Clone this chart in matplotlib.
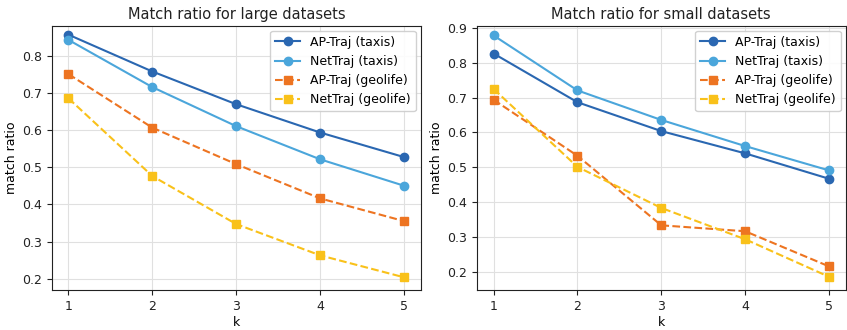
import matplotlib
matplotlib.use("Agg")
import matplotlib.pyplot as plt

k = [1, 2, 3, 4, 5]

# Large datasets
large_ap_taxis = [0.856, 0.757, 0.669, 0.593, 0.527]
large_net_taxis = [0.842, 0.715, 0.610, 0.521, 0.450]
large_ap_geolife = [0.750, 0.606, 0.508, 0.416, 0.355]
large_net_geolife = [0.685, 0.476, 0.347, 0.263, 0.204]

# Small datasets
small_ap_taxis = [0.827, 0.687, 0.604, 0.540, 0.467]
small_net_taxis = [0.879, 0.721, 0.636, 0.561, 0.491]
small_ap_geolife = [0.694, 0.533, 0.333, 0.316, 0.215]
small_net_geolife = [0.725, 0.501, 0.383, 0.293, 0.185]

labels = ["AP-Traj (taxis)", "NetTraj (taxis)", "AP-Traj (geolife)", "NetTraj (geolife)"]
titles = ["Match ratio for large datasets", "Match ratio for small datasets"]

colors = ["#2a67b1", "#4ba6db", "#ed7421", "#f9c11a"]
styles = [("-", "o"), ("-", "o"), ("--", "s"), ("--", "s")]

plt.rcParams["font.family"] = ["DejaVu Sans"]
plt.rcParams["font.size"] = 9

fig = plt.figure(figsize=(8.47, 3.3), dpi=100)
ax1 = fig.add_axes([0.061, 0.1212, 0.436, 0.8008])
ax2 = fig.add_axes([0.563, 0.1212, 0.4355, 0.8008])

datasets = [
    [large_ap_taxis, large_net_taxis, large_ap_geolife, large_net_geolife],
    [small_ap_taxis, small_net_taxis, small_ap_geolife, small_net_geolife],
]

for ax, series, title in zip([ax1, ax2], datasets, titles):
    for vals, lab, c, (ls, m) in zip(series, labels, colors, styles):
        ax.plot(k, vals, linestyle=ls, marker=m, color=c, label=lab,
                linewidth=1.5, markersize=6)
    ax.set_title(title, fontsize=10.5, color="#222222", pad=5)
    ax.set_xlabel("k", fontsize=9, labelpad=2)
    ax.set_ylabel("match ratio", fontsize=9, labelpad=3)
    ax.set_xticks(k)
    ax.grid(True, color="#e0e0e0", linewidth=0.8)
    ax.set_axisbelow(True)
    ax.tick_params(labelsize=9, colors="#222222")
    for s in ax.spines.values():
        s.set_color("#222222")
    ax.legend(loc="upper right", fontsize=9, framealpha=0.9,
              borderaxespad=0.4, handlelength=2.0)

ax1.set_xlim(0.8, 5.2)
ax1.set_ylim(0.17, 0.88)
ax1.set_yticks([0.2, 0.3, 0.4, 0.5, 0.6, 0.7, 0.8])
ax2.set_xlim(0.8, 5.2)
ax2.set_ylim(0.147, 0.907)
ax2.set_yticks([0.2, 0.3, 0.4, 0.5, 0.6, 0.7, 0.8, 0.9])

fig.savefig("out.png", dpi=100)
